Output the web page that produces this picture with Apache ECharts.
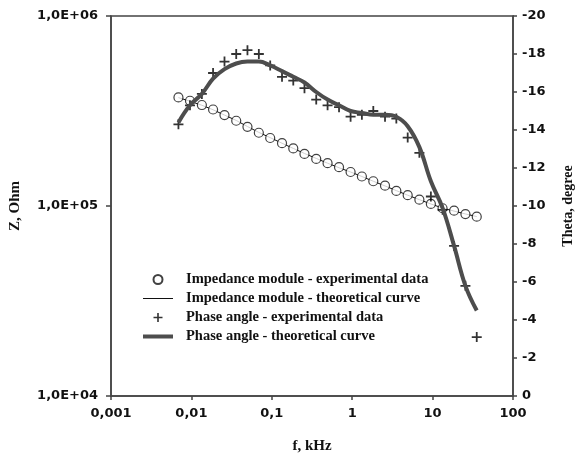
<!DOCTYPE html>
<html>
<head>
<meta charset="utf-8">
<title>Impedance</title>
<script src="https://cdn.jsdelivr.net/npm/echarts@6/dist/echarts.min.js"></script>
<style>
    html, body { margin: 0; padding: 0; background: #fff; }
    #chart { width: 575px; height: 457px; }
</style>
</head>
<body>
<div id="chart"></div>
<script>
// frequency, kHz
var freq = [0.0069, 0.0096, 0.0135, 0.0186, 0.0258, 0.0361, 0.0498, 0.069, 0.0955, 0.134,
    0.185, 0.255, 0.357, 0.494, 0.686, 0.955, 1.32, 1.83, 2.56, 3.54,
    4.9, 6.85, 9.52, 13.3, 18.5, 25.6, 35.4];

// impedance module, Ohm
var zExp = [373000, 358000, 340000, 322000, 301000, 281000, 261000, 243000, 228000, 214000,
    201000, 188000, 177000, 168000, 160000, 151000, 143000, 135000, 128000, 120000,
    114000, 108000, 102500, 97300, 94500, 90700, 87900];
var zTheor = [372000, 356000, 339000, 321000, 301000, 282000, 262000, 244000, 229000, 214000,
    201000, 189000, 178000, 168000, 159000, 151000, 143000, 135000, 127500, 120500,
    114000, 108000, 102500, 97500, 94000, 90800, 88000];

// phase angle, degree
var thetaExp = [-14.3, -15.3, -15.9, -17.0, -17.6, -18.0, -18.2, -18.0, -17.4, -16.8,
    -16.6, -16.2, -15.6, -15.3, -15.2, -14.7, -14.8, -15.0, -14.7, -14.6,
    -13.6, -12.8, -10.5, -9.8, -7.9, -5.8, -3.1];
var thetaTheor = [-14.4, -15.3, -15.9, -16.7, -17.2, -17.5, -17.6, -17.6, -17.4, -17.1,
    -16.8, -16.5, -16.0, -15.6, -15.3, -15.0, -14.9, -14.8, -14.8, -14.7,
    -14.2, -13.1, -11.3, -9.9, -7.9, -5.8, -4.5];

var xTickLabels = ['0,001', '0,01', '0,1', '1', '10', '100'];
var zTickLabels = ['1,0E+04', '1,0E+05', '1,0E+06'];

var seriesNames = [
    'Impedance module - experimental data',
    'Impedance module - theoretical curve',
    'Phase angle - experimental data',
    'Phase angle - theoretical curve'
];

function pairs(xs, ys) {
    var out = [];
    for (var i = 0; i < xs.length; i++) {
        out.push([xs[i], ys[i]]);
    }
    return out;
}

var tickFont = { fontFamily: 'DejaVu Sans', fontWeight: 'bold', fontSize: 13, color: '#111' };
var nameFont = { fontFamily: 'Liberation Serif', fontWeight: 'bold', fontSize: 15, color: '#111' };
var axisColor = '#444';
var plusPath = 'path://M4.1,0h1.8v4.1h4.1v1.8h-4.1v4.1h-1.8v-4.1h-4.1v-1.8h4.1z';

var chart = echarts.init(document.getElementById('chart'));

var option = {
    animation: false,
    backgroundColor: '#fff',
    grid: {
        left: 111,
        right: 62,
        top: 16,
        bottom: 61,
        outerBoundsMode: 'none',
        show: true,
        borderColor: axisColor,
        borderWidth: 1.5
    },
    legend: {
        orient: 'vertical',
        left: 138,
        top: 267,
        itemWidth: 30,
        itemHeight: 9,
        itemGap: 4,
        data: [
            { name: seriesNames[0] },
            { name: seriesNames[1], icon: 'path://M0,0h30v1h-30z' },
            { name: seriesNames[2] },
            { name: seriesNames[3], icon: 'path://M0,0h30v4h-30z' }
        ],
        textStyle: {
            fontFamily: 'Liberation Serif',
            fontWeight: 'bold',
            fontSize: 14.5,
            color: '#111',
            padding: [0, 0, 0, 8]
        }
    },
    xAxis: {
        type: 'log',
        logBase: 10,
        min: 0.001,
        max: 100,
        name: 'f, kHz',
        nameLocation: 'middle',
        nameGap: 43,
        nameTextStyle: nameFont,
        axisLine: { lineStyle: { color: axisColor, width: 1.5 } },
        axisTick: { length: 4, lineStyle: { color: axisColor, width: 1.5 } },
        axisLabel: Object.assign({
            margin: 11,
            formatter: function (v) {
                return xTickLabels[Math.round(Math.log10(v)) + 3];
            }
        }, tickFont),
        splitLine: { show: false },
        minorTick: { show: false }
    },
    yAxis: [
        {
            type: 'log',
            logBase: 10,
            min: 10000,
            max: 1000000,
            name: 'Z, Ohm',
            nameLocation: 'middle',
            nameRotate: 90,
            nameGap: 88,
            nameTextStyle: nameFont,
            axisLine: { lineStyle: { color: axisColor, width: 1.5 } },
            axisTick: { length: 5, lineStyle: { color: axisColor, width: 1.5 } },
            axisLabel: Object.assign({
                margin: 13,
                formatter: function (v) {
                    return zTickLabels[Math.round(Math.log10(v)) - 4];
                }
            }, tickFont),
            splitLine: { show: false }
        },
        {
            type: 'value',
            position: 'right',
            inverse: true,
            min: -20,
            max: 0,
            interval: 2,
            name: 'Theta, degree',
            nameLocation: 'middle',
            nameRotate: 90,
            nameGap: 48,
            nameTextStyle: Object.assign({}, nameFont, { fontSize: 14 }),
            axisLine: { show: true, lineStyle: { color: axisColor, width: 1.5 } },
            axisTick: { show: true, length: 4, lineStyle: { color: axisColor, width: 1.5 } },
            axisLabel: Object.assign({ margin: 9 }, tickFont),
            splitLine: { show: false }
        }
    ],
    series: [
        {
            name: seriesNames[1],
            type: 'line',
            yAxisIndex: 0,
            data: pairs(freq, zTheor),
            symbol: 'none',
            lineStyle: { color: '#111', width: 1 },
            itemStyle: { color: '#111' },
            z: 2
        },
        {
            name: seriesNames[0],
            type: 'scatter',
            yAxisIndex: 0,
            data: pairs(freq, zExp),
            symbol: 'circle',
            symbolSize: 9,
            itemStyle: { color: '#fff', borderColor: '#111', borderWidth: 1.2 },
            z: 3
        },
        {
            name: seriesNames[2],
            type: 'scatter',
            yAxisIndex: 1,
            data: pairs(freq, thetaExp),
            symbol: plusPath,
            symbolSize: 10,
            itemStyle: { color: '#000' },
            z: 4
        },
        {
            name: seriesNames[3],
            type: 'line',
            yAxisIndex: 1,
            data: pairs(freq, thetaTheor),
            symbol: 'none',
            smooth: 0.4,
            lineStyle: { color: '#4d4d4d', width: 4 },
            itemStyle: { color: '#4d4d4d' },
            z: 5
        }
    ]
};

chart.setOption(option);
</script>
</body>
</html>
